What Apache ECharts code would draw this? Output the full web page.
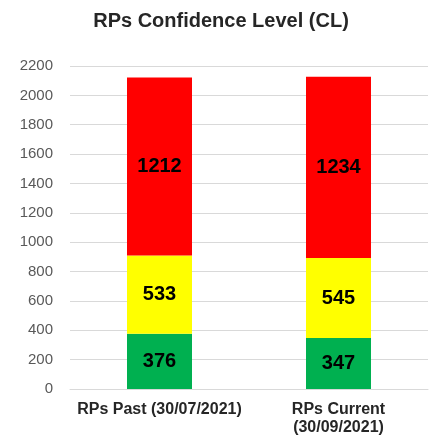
<!DOCTYPE html>
<html>
<head>
<meta charset="utf-8">
<script src="https://cdn.jsdelivr.net/npm/echarts@6/dist/echarts.min.js"></script>
<style>
  html, body { margin: 0; padding: 0; background: #fff; }
  #chart { width: 442px; height: 448px; }
</style>
</head>
<body>
<div id="chart"></div>
<script>
  const categories = ['RPs Past (30/07/2021)', 'RPs Current\n(30/09/2021)'];
  const greenValues = [376, 347];
  const yellowValues = [533, 545];
  const redValues = [1212, 1234];
  const yTicks = { min: 0, max: 2200, interval: 200 };

  const labelStyle = {
    show: true,
    position: 'inside',
    color: '#000',
    fontWeight: 'bold',
    fontSize: 20,
    fontFamily: 'Liberation Sans, Arial, sans-serif',
  };

  const makeSeries = (name, data, color) => ({
    name,
    type: 'bar',
    stack: 'cl',
    barWidth: 65,
    itemStyle: { color },
    label: labelStyle,
    data,
  });

  const chart = echarts.init(document.getElementById('chart'));
  const option = {
    animation: false,
    title: {
      text: 'RPs Confidence Level (CL)',
      left: 'center',
      top: 6,
      textStyle: {
        fontSize: 20,
        fontWeight: 'bold',
        color: '#262626',
        fontFamily: 'Liberation Sans, Arial, sans-serif',
      },
    },
    grid: { left: 70, right: 14, top: 66, bottom: 59 },
    xAxis: {
      type: 'category',
      data: categories,
      axisLine: { lineStyle: { color: '#d9d9d9' } },
      axisTick: { show: false },
      axisLabel: {
        color: '#262626',
        fontWeight: 'bold',
        fontSize: 16,
        lineHeight: 18,
        margin: 12,
        interval: 0,
        fontFamily: 'Liberation Sans, Arial, sans-serif',
      },
    },
    yAxis: {
      type: 'value',
      min: yTicks.min,
      max: yTicks.max,
      interval: yTicks.interval,
      axisLine: { show: false },
      axisTick: { show: false },
      splitLine: { lineStyle: { color: '#d9d9d9' } },
      axisLabel: {
        color: '#595959',
        fontSize: 15,
        margin: 17,
        formatter: (v) => String(v),
        fontFamily: 'Liberation Sans, Arial, sans-serif',
      },
    },
    series: [
      makeSeries('Green', greenValues, '#00b050'),
      makeSeries('Yellow', yellowValues, '#ffff00'),
      makeSeries('Red', redValues, '#ff0000'),
    ],
  };
  chart.setOption(option);
</script>
</body>
</html>
